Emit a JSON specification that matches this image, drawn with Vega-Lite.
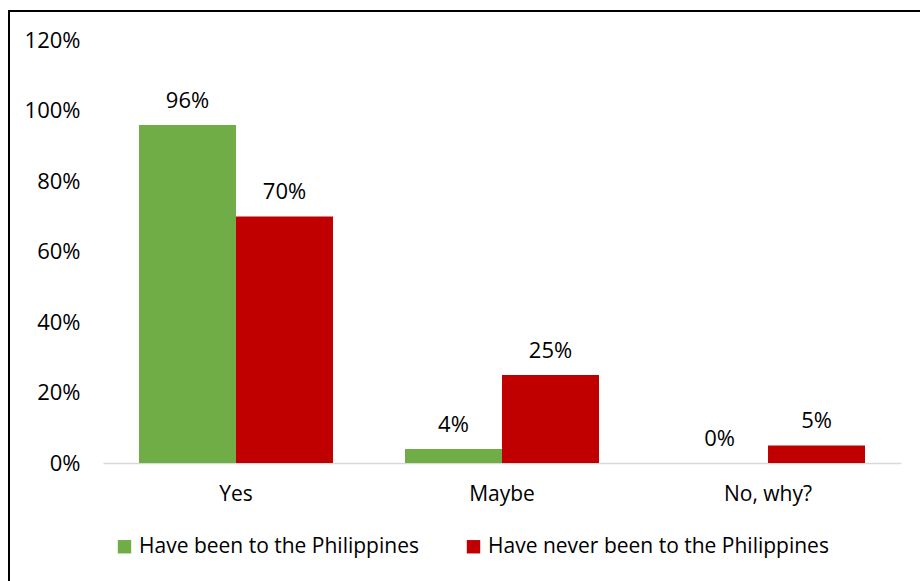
{
  "$schema": "https://vega.github.io/schema/vega-lite/v6.json",
  "autosize": "none",
  "width": 915,
  "height": 574,
  "padding": {"left": 9, "top": 11, "right": -4, "bottom": -4},
  "background": "white",
  "config": {
    "view": {"stroke": "#000000", "strokeWidth": 2},
    "font": "Open Sans"
  },
  "data": {
    "values": [
      {"answer": "Yes", "group": "Have been to the Philippines", "value": 0.96},
      {"answer": "Yes", "group": "Have never been to the Philippines", "value": 0.70},
      {"answer": "Maybe", "group": "Have been to the Philippines", "value": 0.04},
      {"answer": "Maybe", "group": "Have never been to the Philippines", "value": 0.25},
      {"answer": "No, why?", "group": "Have been to the Philippines", "value": 0.0},
      {"answer": "No, why?", "group": "Have never been to the Philippines", "value": 0.05}
    ]
  },
  "encoding": {
    "x": {
      "field": "answer",
      "type": "nominal",
      "sort": ["Yes", "Maybe", "No, why?"],
      "scale": {"range": [94, 892], "paddingInner": 0.2707, "paddingOuter": 0.1353},
      "axis": {
        "title": null,
        "labelAngle": 0,
        "offset": -122,
        "domainColor": "#D9D9D9",
        "domainWidth": 1.5,
        "ticks": false,
        "tickSize": 0,
        "labelPadding": 37,
        "labelBaseline": "alphabetic",
        "labelFontSize": 21,
        "labelColor": "#000000",
        "labelFont": "Open Sans"
      }
    },
    "xOffset": {
      "field": "group",
      "type": "nominal",
      "sort": ["Have been to the Philippines", "Have never been to the Philippines"],
      "scale": {"paddingInner": 0, "paddingOuter": 0}
    },
    "y": {
      "field": "value",
      "type": "quantitative",
      "scale": {"domain": [0, 1.2], "range": [452, 29.4], "nice": false},
      "axis": {
        "title": null,
        "values": [0, 0.2, 0.4, 0.6, 0.8, 1.0, 1.2],
        "format": ".0%",
        "offset": -94,
        "domain": false,
        "ticks": false,
        "tickSize": 0,
        "grid": false,
        "labelPadding": 23,
        "labelFontSize": 22,
        "labelColor": "#000000",
        "labelFont": "Open Sans"
      }
    }
  },
  "layer": [
    {
      "mark": {"type": "bar"},
      "encoding": {
        "color": {
          "field": "group",
          "type": "nominal",
          "sort": ["Have been to the Philippines", "Have never been to the Philippines"],
          "scale": {
            "domain": ["Have been to the Philippines", "Have never been to the Philippines"],
            "range": ["#70AD47", "#C00000"]
          },
          "legend": {
            "title": null,
            "orient": "none",
            "direction": "horizontal",
            "legendX": 105,
            "legendY": 525,
            "symbolType": "square",
            "symbolSize": 180,
            "symbolStrokeWidth": 0,
            "labelFontSize": 21,
            "labelColor": "#000000",
            "labelFont": "Open Sans",
            "labelLimit": 500,
            "labelOffset": 4,
            "columnPadding": 44
          }
        }
      }
    },
    {
      "mark": {"type": "text", "dy": -17, "baseline": "alphabetic", "fontSize": 22, "color": "#000000", "font": "Open Sans"},
      "encoding": {
        "text": {"field": "value", "type": "quantitative", "format": ".0%"}
      }
    }
  ]
}
